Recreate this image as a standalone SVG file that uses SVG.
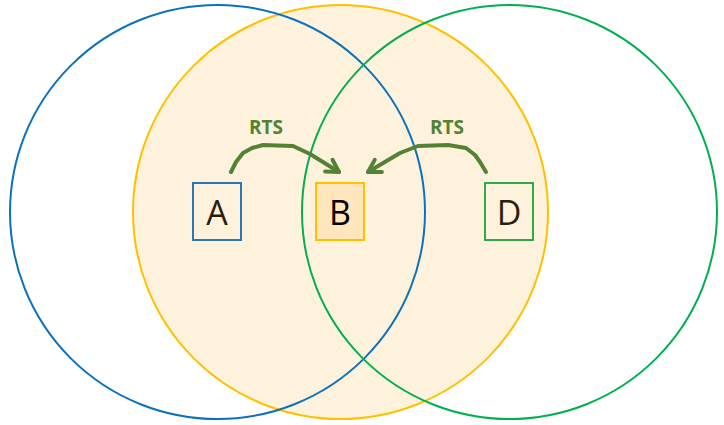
<svg xmlns="http://www.w3.org/2000/svg" width="724" height="425" viewBox="0 0 724 425">
<defs>
<style>
.lbl{font-family:"Open Sans","Liberation Sans",sans-serif;font-size:34px;text-anchor:middle;fill:#2a1e0e}
.rts{font-family:"Open Sans","Liberation Sans",sans-serif;font-size:19px;font-weight:bold;text-anchor:middle;fill:#548235}
.arr{fill:none;stroke:#548235;stroke-width:4;stroke-linecap:round;stroke-linejoin:round}
</style>
<marker id="ah" viewBox="0 0 20 20" refX="16" refY="10" markerWidth="20" markerHeight="20" markerUnits="userSpaceOnUse" orient="auto">
<polyline points="4,3 16,10 4,17" fill="none" stroke="#548235" stroke-width="4" stroke-linecap="round" stroke-linejoin="round"/>
</marker>
</defs>
<rect width="724" height="425" fill="#ffffff"/>
<g id="ranges">
<ellipse cx="340.5" cy="212" rx="207.5" ry="207" fill="#fff2dc" stroke="#ffc000" stroke-width="2"/>
<ellipse cx="217.5" cy="212" rx="207.5" ry="207" fill="none" stroke="#0a72bd" stroke-width="2"/>
<ellipse cx="509.5" cy="212" rx="207.5" ry="207" fill="none" stroke="#00b050" stroke-width="2"/>
</g>
<g id="node-A">
<rect x="193" y="183" width="48" height="57" fill="none" stroke="#2e75b6" stroke-width="2"/>
<text class="lbl" x="217" y="225">A</text>
</g>
<g id="node-B">
<rect x="316" y="183" width="48" height="57" fill="#ffe6bd" stroke="#ffc000" stroke-width="2"/>
<text class="lbl" x="340" y="225" style="fill:#000">B</text>
</g>
<g id="node-D">
<rect x="485" y="183" width="48" height="57" fill="none" stroke="#2eaa4a" stroke-width="2"/>
<text class="lbl" x="509" y="225">D</text>
</g>
<g id="connectors">
<polyline class="arr" points="231,172 236,162 243,153 252,148 263,145 293,146 310,154 339,172" marker-end="url(#ah)"/>
<polyline class="arr" points="486,172 480,162 475,155 466,148 448,145 418,146 400,153 368,172" marker-end="url(#ah)"/>
<text class="rts" x="266" y="134">RTS</text>
<text class="rts" x="447" y="134">RTS</text>
</g>
</svg>
